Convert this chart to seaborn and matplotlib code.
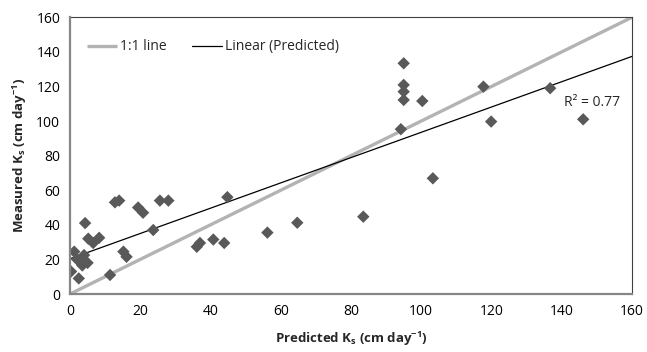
import numpy as np
import pandas as pd
import matplotlib
matplotlib.use("Agg")
import matplotlib.pyplot as plt
import seaborn as sns

# ---- data ----
predicted = [0.3, 1.2, 2.0, 2.5, 3.5, 4.0, 5.0, 4.3, 5.2, 6.6, 8.3, 11.4,
             12.8, 14.0, 15.2, 16.1, 19.4, 20.8, 23.7, 25.6, 28.0, 36.1,
             37.0, 40.8, 43.9, 44.8, 56.2, 64.7, 83.5, 94.2, 95.0, 95.0,
             95.0, 95.0, 100.3, 103.3, 117.7, 119.9, 136.7, 146.1]
measured = [13.0, 24.5, 20.0, 9.0, 16.5, 22.5, 18.0, 41.0, 32.0, 29.5, 32.5, 11.0,
            53.0, 54.0, 24.5, 21.5, 50.0, 47.0, 37.0, 54.0, 54.0, 27.3,
            29.5, 31.5, 29.5, 56.0, 35.5, 41.2, 44.7, 95.3, 133.4, 120.9,
            117.0, 112.2, 111.6, 66.9, 119.9, 99.7, 119.0, 101.0]
one_to_one = [0, 160]
axis_ticks = [0, 20, 40, 60, 80, 100, 120, 140, 160]
r2_label = "R\u00b2 = 0.77"
legend_labels = ["1:1 line", "Linear (Predicted)"]

df = pd.DataFrame({"Predicted": predicted, "Measured": measured})

sns.set_theme(style="white")
plt.rcParams["font.family"] = ["Open Sans", "DejaVu Sans"]
plt.rcParams["mathtext.fontset"] = "custom"
plt.rcParams["mathtext.rm"] = "Open Sans:bold"
plt.rcParams["mathtext.it"] = "Open Sans:bold"
plt.rcParams["mathtext.bf"] = "Open Sans:bold"
plt.rcParams["mathtext.default"] = "rm"

fig = plt.figure(figsize=(6.47, 3.52), dpi=100)
ax = fig.add_axes([70 / 647, 1 - 294 / 352, (632 - 70) / 647, (294 - 17.3) / 352])

# 1:1 line
l1, = ax.plot(one_to_one, one_to_one, color="#b3b3b3", lw=2.4,
              solid_capstyle="butt", zorder=2)
# linear trend line fitted to the data
slope, intercept = np.polyfit(df["Predicted"], df["Measured"], 1)
xs = np.array([axis_ticks[0], axis_ticks[-1]], dtype=float)
l2, = ax.plot(xs, slope * xs + intercept, color="black", lw=0.9, zorder=3)

sns.scatterplot(data=df, x="Predicted", y="Measured", marker="D", s=40,
                color="#595959", edgecolor="none", ax=ax, zorder=4)

ax.set_xlim(axis_ticks[0], axis_ticks[-1])
ax.set_ylim(axis_ticks[0], axis_ticks[-1])
ax.set_xticks(axis_ticks)
ax.set_yticks(axis_ticks)
ax.tick_params(axis="both", length=0, labelsize=10, colors="#000000", pad=7)

for side in ["top", "right"]:
    ax.spines[side].set_color("#404040")
    ax.spines[side].set_linewidth(0.8)
for side in ["left", "bottom"]:
    ax.spines[side].set_color("#868686")
    ax.spines[side].set_linewidth(1.6)
    ax.spines[side].set_zorder(5)

ax.set_xlabel(r"Predicted K$_{s}$ (cm day$^{-1}$)", fontsize=9.5,
              fontweight="bold", labelpad=8)
ax.set_ylabel(r"Measured K$_{s}$ (cm day$^{-1}$)", fontsize=9.5,
              fontweight="bold", labelpad=5)

ax.text(148.5, 110.5, r2_label, fontsize=10, ha="center", va="center")

ax.legend([l1, l2], legend_labels, loc="upper left", ncol=2, frameon=False,
          fontsize=10, handlelength=2.2, handletextpad=0.2, columnspacing=1.8,
          bbox_to_anchor=(0.005, 0.97), borderaxespad=0.6)

fig.savefig("out.png", dpi=100)
